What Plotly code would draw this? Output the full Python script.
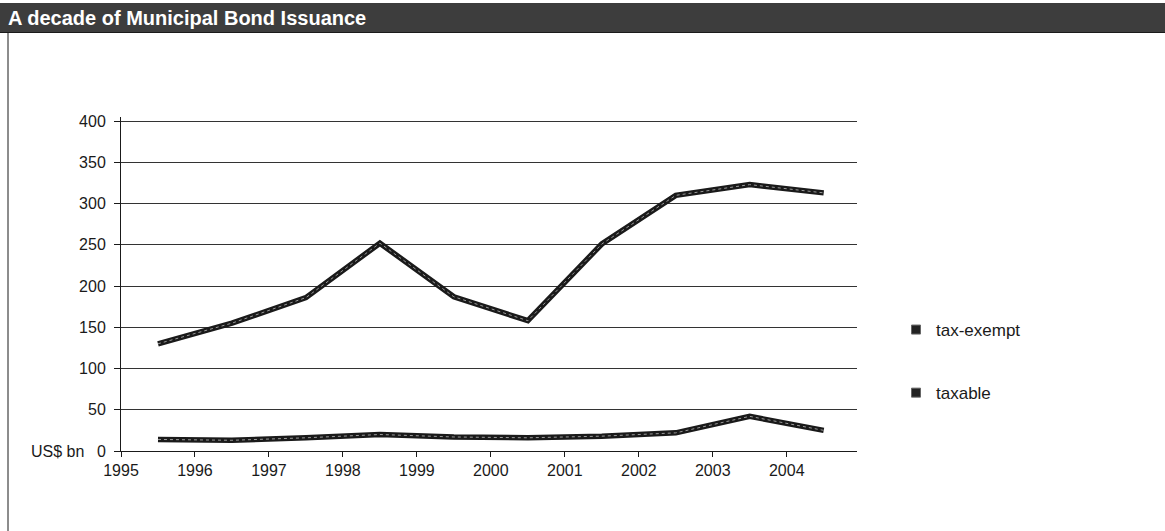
import plotly.graph_objects as go

# Annual municipal bond issuance, US$ bn
years = [1995, 1996, 1997, 1998, 1999, 2000, 2001, 2002, 2003, 2004]
tax_exempt = [130, 155, 186, 252, 187, 158, 251, 310, 323, 313]
taxable = [14, 13, 16, 20, 17, 16, 18, 22, 42, 25]
year_labels = [str(y) for y in years]
y_ticks = [0, 50, 100, 150, 200, 250, 300, 350, 400]

FONT = "Liberation Sans, Arial, Helvetica, sans-serif"
INK = "#1a1a1a"

W, H = 1165, 531
Y_TOP = 405
ML, MR, MB = 121, 308, 80
PH = round(330 * Y_TOP / 400)
MT = H - MB - PH
PW = W - ML - MR


def px_x(p):
    return (p - ML) / PW


def px_y(p):
    return (H - MB - p) / PH


fig = go.Figure()

for name, vals in [("tax-exempt", tax_exempt), ("taxable", taxable)]:
    # heavy printed stroke
    fig.add_trace(go.Scatter(x=years, y=vals, mode="lines", name=name,
                             line=dict(color=INK, width=5.5),
                             showlegend=False, hoverinfo="skip"))
    # light speckle running through the stroke
    fig.add_trace(go.Scatter(x=years, y=vals, mode="lines",
                             line=dict(color="#9a9a9a", width=1, dash="dot"),
                             showlegend=False, hoverinfo="skip"))

# legend entries drawn as small squares
for name in ["tax-exempt", "taxable"]:
    fig.add_trace(go.Scatter(x=[None], y=[None], mode="markers", name=name,
                             legendgroup=name,
                             marker=dict(symbol="square", size=9, color="#222",
                                         line=dict(color="#666", width=1))))

tick_pos = [y - 0.5 for y in years]

fig.update_layout(
    width=W, height=H,
    margin=dict(l=ML, r=MR, t=MT, b=MB),
    paper_bgcolor="white", plot_bgcolor="white",
    font=dict(family=FONT, size=16, color=INK),
    showlegend=True,
    legend=dict(x=px_x(896), y=px_y(312), xanchor="left", yanchor="top",
                traceorder="grouped", tracegroupgap=38,
                font=dict(family=FONT, size=17, color=INK),
                bgcolor="rgba(0,0,0,0)", itemwidth=30),
    xaxis=dict(range=[1994.5, 2004.45], tickmode="array",
               tickvals=tick_pos, ticktext=year_labels,
               showgrid=False, zeroline=False,
               showline=True, linecolor=INK, linewidth=1,
               ticks="outside", ticklen=5, tickcolor=INK,
               tickfont=dict(family=FONT, size=16, color=INK)),
    yaxis=dict(range=[0, Y_TOP], tickmode="array", tickvals=y_ticks,
               showgrid=True, gridcolor="#333333", gridwidth=1,
               zeroline=False,
               showline=True, linecolor=INK, linewidth=1,
               ticks="outside", ticklen=6, tickcolor=INK,
               ticklabelstandoff=5,
               tickfont=dict(family=FONT, size=16, color=INK)),
)

# title band
fig.add_shape(type="rect", xref="paper", yref="paper",
              x0=px_x(0), x1=px_x(W), y0=px_y(32), y1=px_y(3),
              fillcolor="#3d3d3d", line=dict(width=0), layer="above")
# frame lines
fig.add_shape(type="line", xref="paper", yref="paper",
              x0=px_x(0), x1=px_x(W), y0=px_y(32.5), y1=px_y(32.5),
              line=dict(color=INK, width=1))
fig.add_shape(type="line", xref="paper", yref="paper",
              x0=px_x(8), x1=px_x(8), y0=px_y(32), y1=px_y(H),
              line=dict(color=INK, width=1))

fig.add_annotation(text="<b>A decade of Municipal Bond Issuance</b>",
                   xref="paper", yref="paper", x=px_x(6), y=px_y(18),
                   xanchor="left", yanchor="middle", showarrow=False,
                   font=dict(family=FONT, size=20, color="white"))

fig.add_annotation(text="US$ bn", xref="paper", yref="paper",
                   x=px_x(86), y=px_y(451), xanchor="right", yanchor="middle",
                   showarrow=False, font=dict(family=FONT, size=16, color=INK))

fig.write_html("out.html")
